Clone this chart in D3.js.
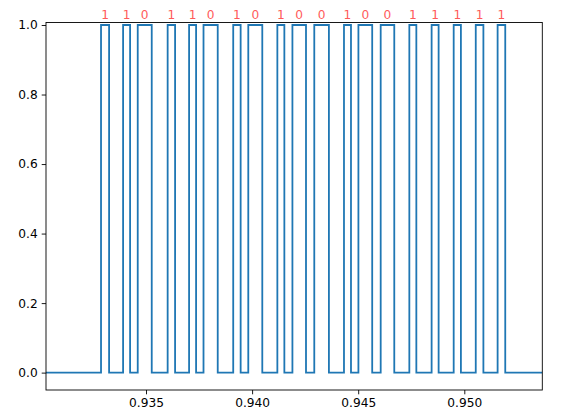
<!DOCTYPE html>
<html>
<head>
<meta charset="utf-8">
<script src="https://cdn.jsdelivr.net/npm/d3@7"></script>
<style>
  body { margin: 0; background: #fff; }
  svg text { font-family: "DejaVu Sans", sans-serif; }
</style>
</head>
<body>
<div id="chart"></div>
<script>
// decoded bits, one per pulse
const bits = [1, 1, 0, 1, 1, 0, 1, 0, 1, 0, 0, 1, 0, 0, 1, 1, 1, 1, 1];

// rising and falling edge times of each pulse (seconds)
const riseTimes = [0.93288, 0.93392, 0.93461, 0.93602, 0.93703, 0.93771, 0.93911, 0.93982,
    0.94119, 0.94190, 0.94293, 0.94433, 0.94501, 0.94606, 0.94741, 0.94846, 0.94950,
    0.95054, 0.95157];
const fallTimes = [0.93326, 0.93425, 0.93527, 0.93637, 0.93736, 0.93838, 0.93946, 0.94048,
    0.94152, 0.94254, 0.94362, 0.94466, 0.94566, 0.94670, 0.94774, 0.94879, 0.94984,
    0.95090, 0.95193];

const xTicks = [0.935, 0.940, 0.945, 0.950];
const yTicks = [0.0, 0.2, 0.4, 0.6, 0.8, 1.0];

const width = 564;
const height = 415;
const marginTop = 22.5;
const marginRight = 21.7;
const marginBottom = 25;
const marginLeft = 46;

const x = d3.scaleLinear()
    .domain([0.930287, 0.953676])
    .range([marginLeft, width - marginRight]);

const y = d3.scaleLinear()
    .domain([-0.05, 1.0072])
    .range([height - marginBottom, marginTop]);

// build the step signal from the edge times
const signal = [{t: x.domain()[0], v: 0}];
riseTimes.forEach((t, i) => {
    signal.push({t: t, v: 1});
    signal.push({t: fallTimes[i], v: 0});
});
signal.push({t: x.domain()[1], v: 0});

const svg = d3.select("#chart").append("svg")
    .attr("width", width)
    .attr("height", height);

svg.append("defs").append("clipPath")
    .attr("id", "clip")
    .append("rect")
    .attr("x", marginLeft)
    .attr("y", marginTop)
    .attr("width", width - marginLeft - marginRight)
    .attr("height", height - marginTop - marginBottom);

const line = d3.line()
    .curve(d3.curveStepAfter)
    .x(d => x(d.t))
    .y(d => y(d.v));

svg.append("path")
    .datum(signal)
    .attr("clip-path", "url(#clip)")
    .attr("fill", "none")
    .attr("stroke", "#1f77b4")
    .attr("stroke-width", 1.8)
    .attr("stroke-linejoin", "miter")
    .attr("d", line);

// x axis
const gx = svg.append("g")
    .attr("transform", `translate(0,${height - marginBottom})`)
    .call(d3.axisBottom(x).tickValues(xTicks).tickFormat(d3.format(".3f"))
        .tickSize(4.3).tickPadding(4).tickSizeOuter(0));

// y axis
const gy = svg.append("g")
    .attr("transform", `translate(${marginLeft},0)`)
    .call(d3.axisLeft(y).tickValues(yTicks).tickFormat(d3.format(".1f"))
        .tickSize(4.3).tickPadding(4).tickSizeOuter(0));

[gx, gy].forEach(g => {
    g.select(".domain").remove();
    g.selectAll("line").attr("stroke", "#000").attr("stroke-width", 0.9);
    g.selectAll("text").attr("fill", "#000").style("font-size", "12.2px");
});

// frame
svg.append("rect")
    .attr("x", marginLeft)
    .attr("y", marginTop)
    .attr("width", width - marginLeft - marginRight)
    .attr("height", height - marginTop - marginBottom)
    .attr("fill", "none")
    .attr("stroke", "#000")
    .attr("stroke-width", 0.9);

// bit labels above each pulse
svg.append("g")
    .selectAll("text")
    .data(bits)
    .join("text")
    .attr("x", (d, i) => x((riseTimes[i] + fallTimes[i]) / 2))
    .attr("y", 19)
    .attr("text-anchor", "middle")
    .attr("fill", "#ff5a5a")
    .style("font-size", "12.2px")
    .text(d => d);
</script>
</body>
</html>
